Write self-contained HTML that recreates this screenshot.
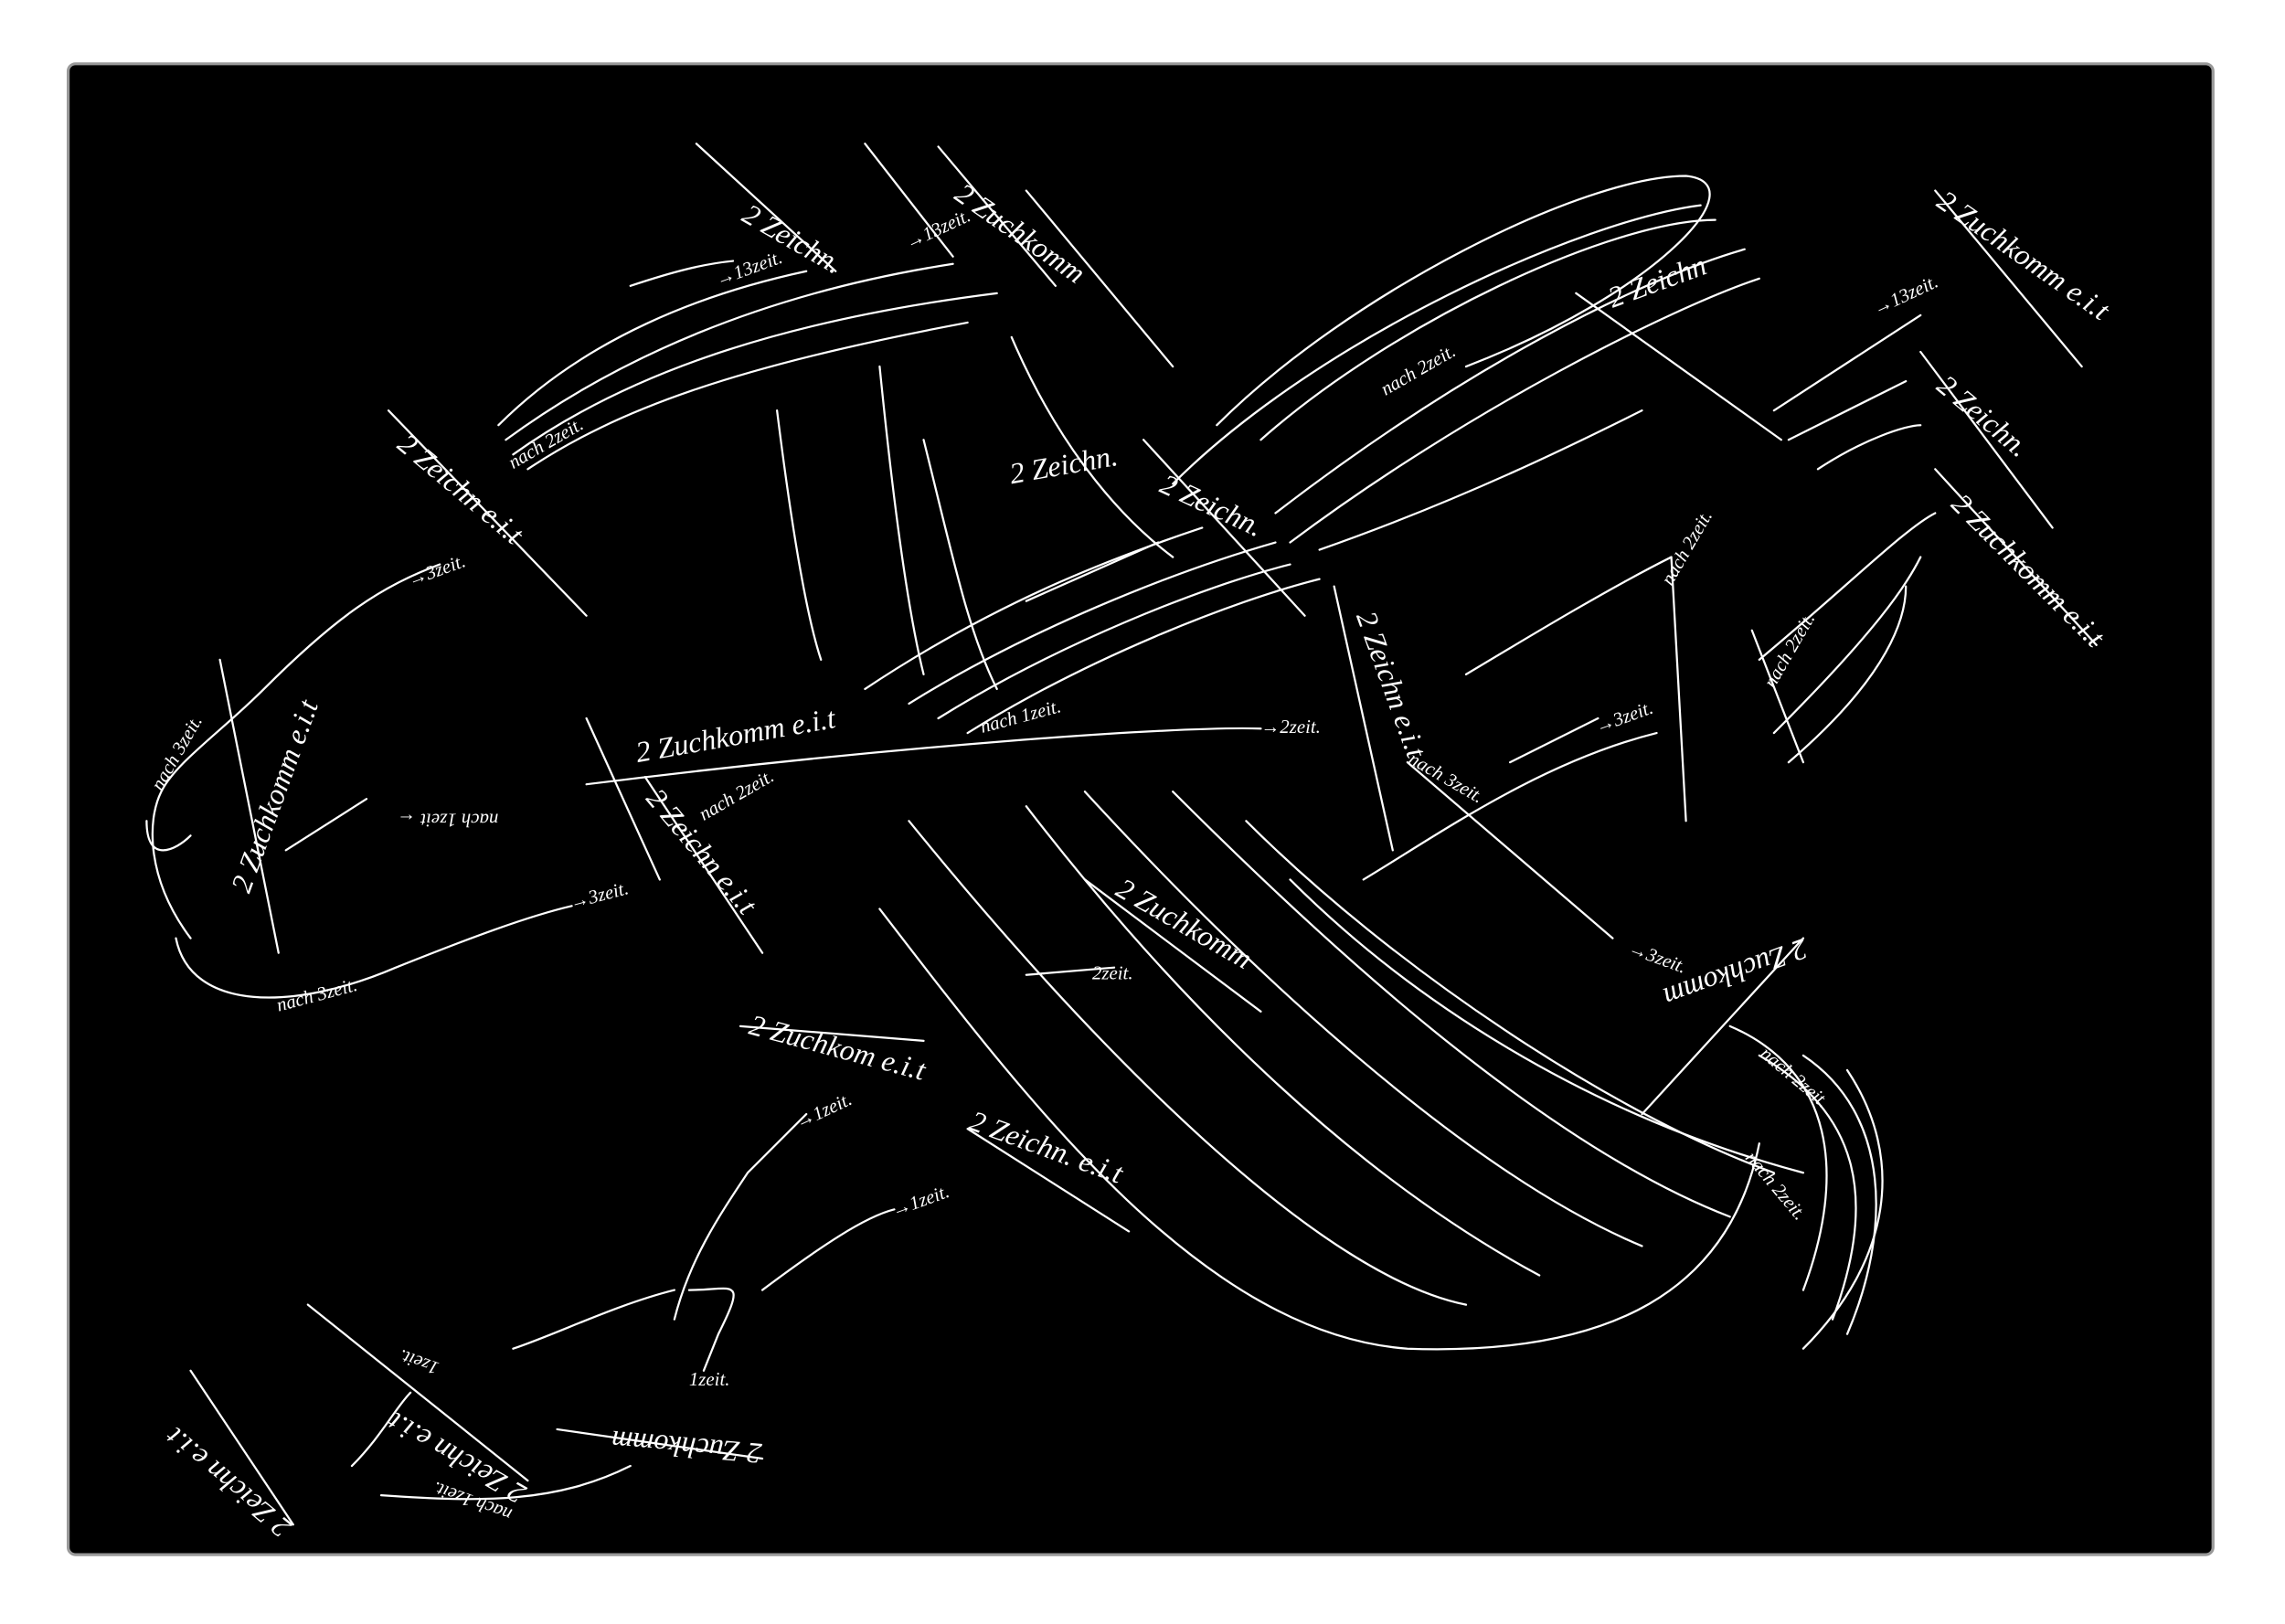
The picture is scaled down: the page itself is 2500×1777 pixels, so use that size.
<!DOCTYPE html>
<html><head><meta charset="utf-8"><style>
html,body{margin:0;padding:0;background:#fff;width:2500px;height:1777px;overflow:hidden}
svg{display:block}
text{font-family:"Liberation Serif",serif;font-style:italic;fill:#fff}
</style></head><body>
<svg width="2500" height="1777" viewBox="0 0 1558.6 1107.8" xmlns="http://www.w3.org/2000/svg">
<rect x="46.5" y="43.5" width="1463" height="1017" rx="5" fill="#000" stroke="#999" stroke-width="2"/>
<g fill="none" stroke="#fff" stroke-width="1.4" stroke-linecap="round">
<!-- slanted bars -->
<path d="M475 98 L570 185"/><path d="M590 98 L650 175"/><path d="M640 100 L720 195"/><path d="M700 130 L800 250"/>
<path d="M265 280 L400 420"/><path d="M780 300 L890 420"/><path d="M1075 200 L1215 300"/><path d="M1320 130 L1420 250"/>
<path d="M1310 240 L1400 360"/><path d="M1320 320 L1430 440"/><path d="M910 400 L950 580"/><path d="M1140 380 L1150 560"/>
<path d="M1195 430 L1230 520"/><path d="M400 490 L450 600"/><path d="M440 530 L520 650"/><path d="M150 450 L190 650"/>
<path d="M505 700 L630 710"/><path d="M660 770 L770 840"/><path d="M740 600 L860 690"/><path d="M130 935 L200 1040"/>
<path d="M210 890 L360 1010"/><path d="M380 975 L520 995"/><path d="M1120 760 L1230 640"/>
<!-- big curves -->
<path d="M400 535 C 600 510 800 495 860 497"/>
<path d="M130 640 C 100 600 100 560 110 540 C 120 520 150 500 180 470 C 230 420 260 400 300 385"/>
<path d="M100 560 C 100 590 120 580 130 570"/>
<path d="M120 640 C 130 690 200 690 270 660 C 320 640 360 625 390 618"/>
<path d="M195 580 L 250 545"/>
<path d="M360 320 C 420 280 500 250 660 220"/><path d="M350 310 C 420 260 520 220 680 200"/>
<path d="M345 300 C 420 245 520 200 650 180"/><path d="M340 290 C 400 230 480 200 550 185"/>
<path d="M430 195 C 460 185 480 180 500 178"/>
<path d="M830 290 C 920 200 1080 120 1150 120 C 1200 125 1130 200 1000 250"/>
<path d="M800 330 C 900 230 1080 150 1160 140"/><path d="M860 300 C 950 220 1100 150 1170 150"/>
<path d="M870 350 C 1000 250 1120 190 1190 170"/><path d="M880 370 C 1000 280 1140 210 1200 190"/>
<path d="M900 375 C 1000 340 1080 300 1120 280"/>
<path d="M600 620 C 700 750 820 910 960 920 C 1100 925 1180 880 1200 780"/>
<path d="M620 560 C 750 720 900 870 1000 890"/><path d="M700 550 C 800 680 920 800 1050 870"/>
<path d="M740 540 C 850 660 1000 800 1120 850"/><path d="M800 540 C 900 640 1050 780 1180 830"/>
<path d="M850 560 C 950 660 1100 760 1210 800"/><path d="M880 600 C 960 680 1080 760 1230 800"/>
<path d="M1180 700 C 1250 730 1260 800 1230 880"/><path d="M1200 720 C 1270 760 1280 820 1250 900"/>
<path d="M1230 720 C 1290 760 1290 840 1260 910"/><path d="M1260 730 C 1300 790 1290 860 1230 920"/>
<path d="M930 600 C 980 570 1050 520 1130 500"/><path d="M1030 520 L1090 490"/>
<path d="M1100 640 L 960 520"/><path d="M1000 460 C 1050 430 1100 400 1140 380"/>
<path d="M620 480 C 700 430 800 390 870 370"/><path d="M640 490 C 720 440 820 400 880 385"/>
<path d="M660 500 C 740 450 840 410 900 395"/><path d="M590 470 C 680 410 760 380 820 360"/>
<path d="M700 410 L 790 370"/>
<path d="M530 280 C 540 360 550 420 560 450"/><path d="M600 250 C 610 350 620 420 630 460"/>
<path d="M630 300 C 650 380 660 430 680 470"/><path d="M690 230 C 720 300 760 350 800 380"/>
<path d="M460 900 C 470 860 490 830 510 800 C 530 780 540 770 550 760"/>
<path d="M470 880 C 500 880 510 870 490 910 L480 935"/>
<path d="M520 880 C 560 850 590 830 610 825"/>
<path d="M460 880 C 420 890 380 910 350 920"/>
<path d="M700 665 L 760 660"/><path d="M1240 320 C 1270 300 1300 290 1310 290"/>
<path d="M1220 300 L1300 260"/><path d="M1210 280 L1310 215"/>
<path d="M1200 450 C 1260 400 1300 360 1320 350"/><path d="M1210 500 C 1280 430 1300 400 1310 380"/>
<path d="M1220 520 C 1290 460 1300 420 1300 400"/>
<path d="M260 1020 C 330 1025 380 1025 430 1000"/><path d="M240 1000 C 260 980 270 960 280 950"/>
</g>
<g font-size="20">
<text transform="translate(505 150) rotate(30)">2 Zeichn.</text>
<text transform="translate(650 135) rotate(35)">2 Zuchkomm</text>
<text transform="translate(270 305) rotate(40)">2 Zeichn e.i.t</text>
<text transform="translate(1100 210) rotate(-20)">2 Zeichn</text>
<text transform="translate(1320 140) rotate(35)">2 Zuchkomm e.i.t</text>
<text transform="translate(1320 265) rotate(40)">2 Zeichn.</text>
<text transform="translate(1330 345) rotate(45)">2 Zuchkomm e.i.t</text>
<text transform="translate(690 330) rotate(-10)">2 Zeichn.</text>
<text transform="translate(790 335) rotate(25)">2 Zeichn.</text>
<text transform="translate(925 420) rotate(70)">2 Zeichn e.i.t</text>
<text transform="translate(435 520) rotate(-10)">2 Zuchkomm e.i.t</text>
<text transform="translate(440 545) rotate(50)">2 Zeichn e.i.t</text>
<text transform="translate(170 610) rotate(-70)">2 Zuchkomm e.i.t</text>
<text transform="translate(510 705) rotate(15)">2 Zuchkom e.i.t</text>
<text transform="translate(660 770) rotate(20)">2 Zeichn. e.i.t</text>
<text transform="translate(760 610) rotate(30)">2 Zuchkomm</text>
<text transform="translate(1230 640) rotate(160)">2 Zuchkomm</text>
<text transform="translate(200 1040) rotate(220)">2 Zeichn e.i.t</text>
<text transform="translate(360 1015) rotate(210)">2 Zeichn e.i.t</text>
<text transform="translate(520 985) rotate(185)">2 Zuchkomm</text>
</g>
<g font-size="13">
<text transform="translate(490 195) rotate(-20)">→13zeit.</text>
<text transform="translate(620 170) rotate(-25)">→13zeit.</text>
<text transform="translate(280 400) rotate(-20)">→3zeit.</text>
<text transform="translate(670 500) rotate(-15)">nach 1zeit.</text>
<text transform="translate(860 500)">→2zeit.</text>
<text transform="translate(390 620) rotate(-15)">→3zeit.</text>
<text transform="translate(190 690) rotate(-15)">nach 3zeit.</text>
<text transform="translate(340 555) rotate(180)">nach 1zeit ←</text>
<text transform="translate(745 668)">2zeit.</text>
<text transform="translate(545 770) rotate(-25)">→1zeit.</text>
<text transform="translate(610 830) rotate(-20)">→1zeit.</text>
<text transform="translate(1090 500) rotate(-20)">→3zeit.</text>
<text transform="translate(1110 650) rotate(20)">→3zeit.</text>
<text transform="translate(960 520) rotate(30)">nach 3zeit.</text>
<text transform="translate(1280 215) rotate(-25)">→13zeit.</text>
<text transform="translate(350 320) rotate(-30)">nach 2zeit.</text>
<text transform="translate(945 270) rotate(-30)">nach 2zeit.</text>
<text transform="translate(1200 720) rotate(40)">nach 2zeit.</text>
<text transform="translate(1190 790) rotate(50)">nach 2zeit.</text>
<text transform="translate(470 945)">1zeit.</text>
<text transform="translate(300 930) rotate(200)">1zeit.</text>
<text transform="translate(350 1030) rotate(200)">nach 1zeit.</text>
<text transform="translate(480 560) rotate(-30)">nach 2zeit.</text>
<text transform="translate(1140 400) rotate(-60)">nach 2zeit.</text>
<text transform="translate(1210 470) rotate(-60)">nach 2zeit.</text>
<text transform="translate(110 540) rotate(-60)">nach 3zeit.</text>
</g>
</svg>
</body></html>
